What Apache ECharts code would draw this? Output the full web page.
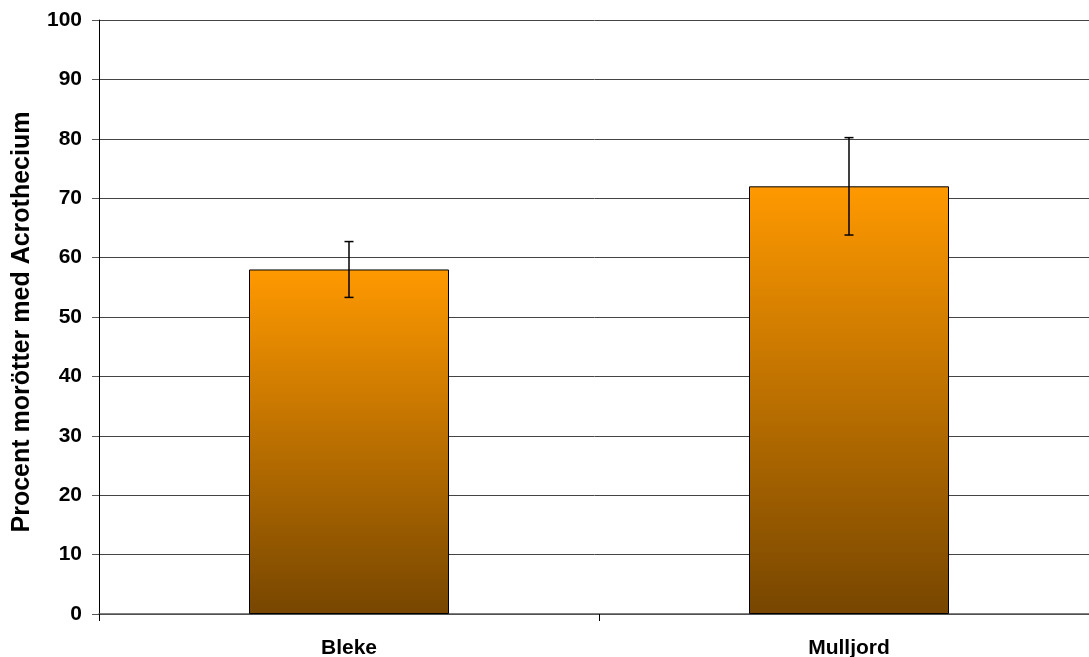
<!DOCTYPE html>
<html>
<head>
<meta charset="utf-8">
<script src="https://cdn.jsdelivr.net/npm/echarts@6/dist/echarts.min.js"></script>
<style>html,body{margin:0;padding:0;background:#fff}#c{width:1089px;height:657px}</style>
</head>
<body>
<div id="c"></div>
<script>
const categories = ['Bleke', 'Mulljord'];
const values = [58, 72];
const errors = [4.7, 8.2];
const yTitle = 'Procent morötter med Acrothecium';

const FONT = '"Liberation Sans", Arial, sans-serif';
const chart = echarts.init(document.getElementById('c'), null, {renderer: 'canvas'});
const errData = categories.map((c, i) => [i, values[i] - errors[i], values[i] + errors[i]]);

chart.setOption({
  animation: false,
  backgroundColor: '#fff',
  grid: {left: 99, top: 20, width: 1000, height: 594, containLabel: false, outerBoundsMode: 'none'},
  xAxis: {
    type: 'category',
    data: categories,
    boundaryGap: true,
    axisLine: {show: true, lineStyle: {color: '#555', width: 1.5}},
    axisTick: {show: true, alignWithLabel: false, length: 7, lineStyle: {color: '#000'}},
    axisLabel: {color: '#000', fontFamily: FONT, fontWeight: 'bold', fontSize: 21, margin: 24},
    splitLine: {show: false}
  },
  yAxis: {
    type: 'value',
    min: 0, max: 100, interval: 10,
    name: yTitle,
    nameLocation: 'middle',
    nameGap: 64,
    nameTextStyle: {color: '#000', fontFamily: FONT, fontWeight: 'bold', fontSize: 25, padding: [0, 10, 0, 0]},
    axisLine: {show: true, lineStyle: {color: '#000', width: 1}},
    axisTick: {show: true, length: 7, lineStyle: {color: '#555'}},
    axisLabel: {color: '#000', fontFamily: FONT, fontWeight: 'bold', fontSize: 21, margin: 17},
    splitLine: {show: true, lineStyle: {color: '#444', width: 1}}
  },
  series: [
    {
      type: 'bar',
      data: values,
      barWidth: '40%',
      itemStyle: {
        borderColor: '#000',
        borderWidth: 1,
        color: new echarts.graphic.LinearGradient(0, 0, 0, 1, [
          {offset: 0, color: '#FF9900'},
          {offset: 1, color: '#774600'}
        ])
      },
      z: 2
    },
    {
      type: 'custom',
      data: errData,
      encode: {x: 0, y: [1, 2]},
      z: 5,
      renderItem: function (params, api) {
        const x = api.value(0);
        const lo = api.coord([x, api.value(1)]);
        const hi = api.coord([x, api.value(2)]);
        const hw = 4.5;
        const style = {stroke: '#000', lineWidth: 1.5};
        return {
          type: 'group',
          children: [
            {type: 'line', shape: {x1: hi[0], y1: hi[1], x2: lo[0], y2: lo[1]}, style: style},
            {type: 'line', shape: {x1: hi[0] - hw, y1: hi[1], x2: hi[0] + hw, y2: hi[1]}, style: style},
            {type: 'line', shape: {x1: lo[0] - hw, y1: lo[1], x2: lo[0] + hw, y2: lo[1]}, style: style}
          ]
        };
      }
    }
  ]
});
</script>
</body>
</html>
